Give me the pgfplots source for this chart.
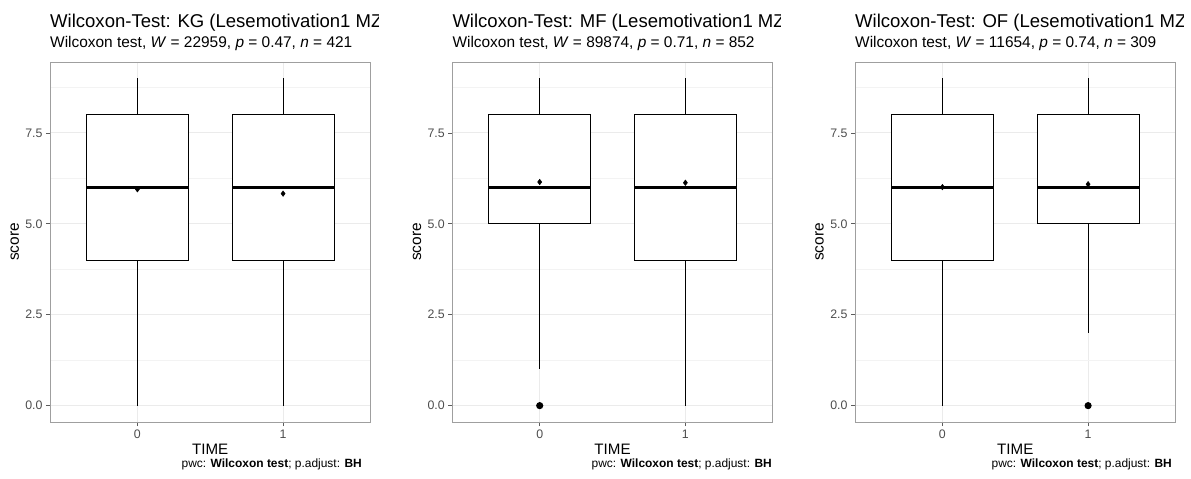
\documentclass[border=0pt]{standalone}
\usepackage{fontspec}
\setmainfont{Liberation Sans}
\usepackage{pgfplots}
\pgfplotsset{compat=1.18}
\usepgfplotslibrary{statistics}
\definecolor{gridc}{HTML}{EBEBEB}
\definecolor{tickc}{HTML}{4D4D4D}
\definecolor{borderc}{HTML}{333333}
\pgfplotsset{
  panel/.style={
    scale only axis, width=320.5bp, height=360bp,
    anchor=south west,
    xmin=-0.6, xmax=1.6, ymin=-0.45, ymax=9.45,
    xtick={0,1}, xticklabels={0,1},
    ytick={0,2.5,5,7.5}, yticklabels={0.0,2.5,5.0,7.5},
    minor ytick={1.25,3.75,6.25,8.75},
    xmajorgrids, ymajorgrids, yminorgrids,
    major grid style={draw=gridc, line width=0.9bp},
    minor grid style={draw=gridc!60!white, line width=0.5bp},
    axis line style={draw=gray!75, line width=0.8bp},
    tick align=outside, tick pos=left,
    major tick length=4bp, minor tick length=0pt,
    tick style={draw=borderc!80, line width=0.8bp},
    ticklabel style={font=\fontsize{12.4}{14}\selectfont, text=tickc},
    /pgf/number format/assume math mode=true,
    xlabel={TIME},
    xlabel style={font=\fontsize{15.2}{18}\selectfont, inner sep=0pt, at={(axis description cs:0.5,0)}, anchor=base, yshift=-32.5bp},
    boxplot/draw direction=y,
    boxplot/every median/.style={line width=2.6bp},
    boxplot/whisker extend=0,
    boxplot/box extend=0.7,
  },
  bx/.style={draw=black, fill=white, line width=1.1bp, solid, mark=*, mark size=3bp, mark options={fill=black, draw=black, solid}},
  mn/.style={only marks, mark=diamond*, mark size=2.8bp, mark options={fill=black, draw=black}},
}
\newcommand{\titles}[6]{%
  \begin{scope}
    \clip (#1bp,0) rectangle (#2bp,-479bp);
    \node[anchor=base west, inner sep=0pt, font=\fontsize{18.6}{22}\selectfont] at (#3bp,-27bp) {#4};
  \end{scope}
  \node[anchor=base west, inner sep=0pt, font=\fontsize{15.5}{18}\selectfont] at (#3bp,-47.7bp) {#5};
  \node[anchor=base east, inner sep=0pt, font=\fontsize{12}{14}\selectfont] at (#6bp,-467bp) {pwc: \textbf{Wilcoxon test}; p.adjust: \textbf{BH}};
}
\begin{document}
\begin{tikzpicture}
\useasboundingbox (0,0) rectangle (1191bp,-479bp);
% ---------------- Panel 1: KG
\titles{0}{378}{50}{Wilcoxon-Test: KG (Lesemotivation1 MZ1 vs MZ2)}{Wilcoxon test, \textit{W} = 22959, \textit{p} = 0.47, \textit{n} = 421}{362}
\node[rotate=90, font=\fontsize{15.5}{18}\selectfont] at (14.7bp,-242bp) {score};
\begin{axis}[panel, at={(50bp,-422bp)}]
\addplot[bx, boxplot prepared={draw position=0, lower whisker=0, lower quartile=4, median=6, upper quartile=8, upper whisker=9}] coordinates {};
\addplot[bx, boxplot prepared={draw position=1, lower whisker=0, lower quartile=4, median=6, upper quartile=8, upper whisker=9}] coordinates {};
\addplot[mn] coordinates {(0,5.95) (1,5.83)};
\end{axis}
% ---------------- Panel 2: MF
\titles{397}{780}{452.3}{Wilcoxon-Test: MF (Lesemotivation1 MZ1 vs MZ2)}{Wilcoxon test, \textit{W} = 89874, \textit{p} = 0.71, \textit{n} = 852}{772}
\node[rotate=90, font=\fontsize{15.5}{18}\selectfont] at (417bp,-242bp) {score};
\begin{axis}[panel, at={(452.3bp,-422bp)}]
\addplot[bx, boxplot prepared={draw position=0, lower whisker=1, lower quartile=5, median=6, upper quartile=8, upper whisker=9}] coordinates {(0,0)};
\addplot[bx, boxplot prepared={draw position=1, lower whisker=0, lower quartile=4, median=6, upper quartile=8, upper whisker=9}] coordinates {};
\addplot[mn] coordinates {(0,6.15) (1,6.13)};
\end{axis}
% ---------------- Panel 3: OF
\titles{794}{1183}{855}{Wilcoxon-Test: OF (Lesemotivation1 MZ1 vs MZ2)}{Wilcoxon test, \textit{W} = 11654, \textit{p} = 0.74, \textit{n} = 309}{1172}
\node[rotate=90, font=\fontsize{15.5}{18}\selectfont] at (819.5bp,-242bp) {score};
\begin{axis}[panel, at={(855bp,-422bp)}]
\addplot[bx, boxplot prepared={draw position=0, lower whisker=0, lower quartile=4, median=6, upper quartile=8, upper whisker=9}] coordinates {};
\addplot[bx, boxplot prepared={draw position=1, lower whisker=2, lower quartile=5, median=6, upper quartile=8, upper whisker=9}] coordinates {(1,0)};
\addplot[mn] coordinates {(0,6.01) (1,6.09)};
\end{axis}
\end{tikzpicture}
\end{document}
